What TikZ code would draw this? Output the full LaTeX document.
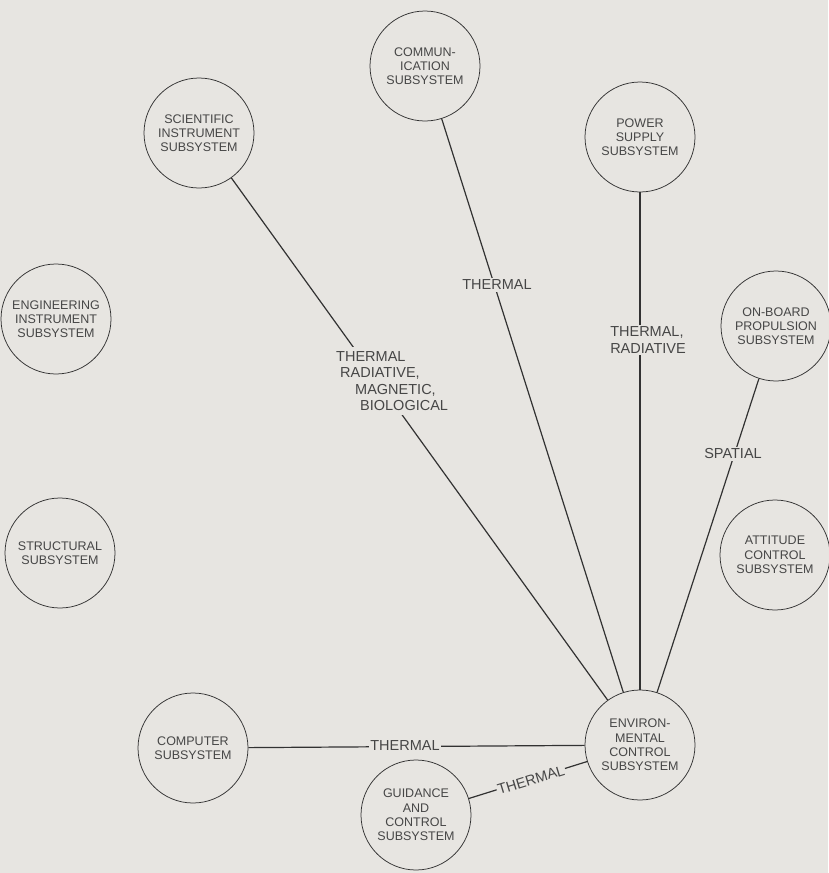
\documentclass[tikz,border=0pt]{standalone}
\usepackage{fontspec}
\setmainfont{Liberation Sans}
\definecolor{bg}{RGB}{231,229,225}
\definecolor{ink}{RGB}{50,50,50}
\definecolor{txt}{RGB}{70,70,70}
\begin{document}
\begin{tikzpicture}[x=1pt,y=-1pt,
  sub/.style={circle,draw=ink,line width=0.75pt,fill=bg,minimum size=110pt,inner sep=0pt,
    align=center,text=txt,font=\fontsize{12.5}{14.3}\selectfont},
  link/.style={draw=ink,line width=1.2pt},
  lbl/.style={fill=bg,text=txt,inner sep=2pt,font=\fontsize{14.5}{16.5}\selectfont}]
\fill[bg] (0,0) rectangle (828,873);
\useasboundingbox (0,0) rectangle (828,873);
% subsystems
\node[sub] (comm) at (425,66) {COMMUN-\\ICATION\\SUBSYSTEM};
\node[sub] (sci) at (199,133) {SCIENTIFIC\\INSTRUMENT\\SUBSYSTEM};
\node[sub] (pow) at (640,137) {POWER\\SUPPLY\\SUBSYSTEM};
\node[sub] (eng) at (56,319) {ENGINEERING\\INSTRUMENT\\SUBSYSTEM};
\node[sub] (prop) at (776,326) {ON-BOARD\\PROPULSION\\SUBSYSTEM};
\node[sub] (str) at (60,553) {STRUCTURAL\\SUBSYSTEM};
\node[sub] (att) at (775,555) {ATTITUDE\\CONTROL\\SUBSYSTEM};
\node[sub] (comp) at (193,748) {COMPUTER\\SUBSYSTEM};
\node[sub] (env) at (640,745) {ENVIRON-\\MENTAL\\CONTROL\\SUBSYSTEM};
\node[sub] (gnc) at (416,815) {GUIDANCE\\AND\\CONTROL\\SUBSYSTEM};
% connectors
\draw[link] (sci) -- (env);
\draw[link] (comm) -- (env);
\draw[link] (pow) -- (env);
\draw[link] (prop) -- (env);
\draw[link] (comp) -- (env);
\draw[link] (gnc) -- (env);
% labels
\node[lbl] (lcomm) at (497,285) {THERMAL};
\node[lbl,align=left] (lpow) at (648,340) {THERMAL,\\RADIATIVE};
\node[lbl,align=left,anchor=north west,inner sep=4pt] (lsci) at (332,347)
  {THERMAL\\\hspace*{4pt}RADIATIVE,\\\hspace*{19pt}MAGNETIC,\\\hspace*{24pt}BIOLOGICAL};
\node[lbl] (lprop) at (733,454) {SPATIAL};
\node[lbl,inner sep=1.5pt] (lcomp) at (405,746) {THERMAL};
\node[lbl,inner sep=1pt,rotate=17] (lgnc) at (531,780) {THERMAL};
\end{tikzpicture}
\end{document}
